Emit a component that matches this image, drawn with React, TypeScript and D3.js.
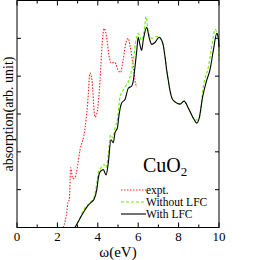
import * as d3 from "d3";
import {useEffect, useRef} from "react";

// experiment (red dotted)
const exptE = [2.29, 2.48, 2.52, 2.59, 2.66, 2.76, 2.87, 3.12, 3.37, 3.51, 3.61, 3.71, 3.86, 3.96, 4.11, 4.21, 4.32, 4.46, 4.55, 4.69, 4.8, 4.9, 5.0, 5.13, 5.25, 5.4, 5.51, 5.59, 5.76, 5.84, 5.93];
const exptA = [0, 0.47, 0.66, 0.74, 1.58, 1.29, 1.32, 2.05, 2.63, 3.37, 4.08, 3.9, 2.92, 3.03, 3.89, 4.82, 5.26, 4.95, 4.55, 4.34, 4.37, 4.32, 4.16, 4.1, 4.42, 4.9, 5.0, 4.82, 4.24, 3.89, 3.71];

// without local field correction (green dashed)
const noLfcE = [2.87, 3.12, 3.37, 3.61, 3.81, 3.95, 4.03, 4.16, 4.31, 4.41, 4.52, 4.63, 4.75, 4.85, 4.98, 5.1, 5.35, 5.59, 5.76, 5.89, 6.0, 6.17, 6.3, 6.39, 6.5, 6.67, 6.92, 7.04, 7.16, 7.33, 7.41, 7.49, 7.57, 7.67, 7.82, 8.07, 8.27, 8.48, 8.73, 8.94, 9.06, 9.22, 9.47, 9.72, 9.8, 9.97, 10.0];
const noLfcA = [0, 0.26, 0.53, 0.66, 0.79, 1.18, 1.47, 1.58, 1.66, 1.58, 1.92, 2.45, 2.37, 2.63, 2.89, 3.45, 3.71, 3.97, 4.42, 4.95, 5.13, 4.95, 5.21, 5.58, 5.16, 5.0, 5.05, 5.03, 4.95, 4.5, 4.16, 3.89, 3.63, 3.42, 3.32, 3.26, 3.34, 3.16, 2.89, 2.84, 2.97, 3.71, 4.24, 5.03, 5.24, 4.95, 4.42];

// with local field correction (black solid)
const lfcE = [2.87, 3.12, 3.37, 3.51, 3.7, 3.81, 3.95, 4.03, 4.11, 4.27, 4.41, 4.52, 4.65, 4.77, 4.85, 4.97, 5.05, 5.18, 5.35, 5.51, 5.68, 5.76, 5.84, 5.93, 6.0, 6.09, 6.17, 6.25, 6.42, 6.55, 6.67, 6.83, 7.04, 7.16, 7.24, 7.33, 7.41, 7.49, 7.57, 7.67, 7.82, 8.07, 8.27, 8.48, 8.73, 8.9, 9.02, 9.19, 9.39, 9.55, 9.72, 9.89, 9.97, 10.0];
const lfcA = [0, 0.24, 0.47, 0.58, 0.68, 0.74, 1.0, 1.32, 1.47, 1.53, 1.39, 1.71, 2.32, 2.24, 2.5, 2.63, 2.97, 3.29, 3.39, 3.68, 3.74, 3.89, 4.24, 4.68, 5.03, 4.82, 4.68, 4.95, 5.29, 5.0, 4.84, 4.89, 5.03, 4.95, 4.82, 4.5, 4.16, 3.89, 3.63, 3.42, 3.32, 3.26, 3.34, 3.16, 2.89, 2.76, 2.89, 3.45, 3.89, 4.16, 4.68, 5.13, 5.0, 4.76];

const xTicks = [0, 2, 4, 6, 8, 10];
const xMinor = [1, 3, 5, 7, 9];
const yTicks = [1, 2, 3, 4, 5];

const legend = [
    {label: "expt.", color: "#ff2020", dash: "1.5,1.5"},
    {label: "Without LFC", color: "#66ee00", dash: "3,2"},
    {label: "With LFC", color: "#000000", dash: null},
];

export default function App() {
    const ref = useRef<SVGSVGElement>(null);

    useEffect(() => {
        const width = 253, height = 260;
        const left = 17, right = 219, top = 0.5, bottom = 227.5;
        const svg = d3.select(ref.current);
        svg.selectAll("*").remove();
        svg.attr("width", width).attr("height", height);

        const x = d3.scaleLinear().domain([0, 10]).range([left, right]);
        const y = d3.scaleLinear().domain([0, 6]).range([bottom, top]);
        const font = "'Liberation Serif', 'DejaVu Serif', serif";

        // ticks pointing inward on all four sides
        const g = svg.append("g").attr("stroke", "#000").attr("stroke-width", 1);
        xTicks.forEach(t => {
            g.append("line").attr("x1", x(t)).attr("x2", x(t)).attr("y1", bottom).attr("y2", bottom - 5);
            g.append("line").attr("x1", x(t)).attr("x2", x(t)).attr("y1", top).attr("y2", top + 5);
        });
        xMinor.forEach(t => {
            g.append("line").attr("x1", x(t)).attr("x2", x(t)).attr("y1", bottom).attr("y2", bottom - 3);
            g.append("line").attr("x1", x(t)).attr("x2", x(t)).attr("y1", top).attr("y2", top + 3);
        });
        yTicks.forEach(t => {
            g.append("line").attr("x1", left).attr("x2", left + 4).attr("y1", y(t)).attr("y2", y(t));
            g.append("line").attr("x1", right).attr("x2", right - 4).attr("y1", y(t)).attr("y2", y(t));
        });

        const series = [
            {e: exptE, a: exptA, ...legend[0]},
            {e: noLfcE, a: noLfcA, ...legend[1]},
            {e: lfcE, a: lfcA, ...legend[2]},
        ];

        const line = d3.line().curve(d3.curveMonotoneX);

        series.forEach(s => {
            const pts = s.e.map((e, i) => [x(e), y(s.a[i])] as [number, number]);
            svg.append("path")
                .attr("d", line(pts))
                .attr("fill", "none")
                .attr("stroke", s.color)
                .attr("stroke-width", 1.1)
                .attr("stroke-dasharray", s.dash);
        });

        // frame
        svg.append("rect").attr("x", left).attr("y", top).attr("width", right - left).attr("height", bottom - top)
            .attr("fill", "none").attr("stroke", "#000").attr("stroke-width", 1);

        // x tick labels
        svg.append("g").selectAll("text").data(xTicks).join("text")
            .attr("x", d => x(d)).attr("y", 241)
            .attr("text-anchor", "middle").attr("font-family", font).attr("font-size", 13)
            .text(d => d);

        svg.append("text").attr("x", 118).attr("y", 257).attr("text-anchor", "middle")
            .attr("font-family", font).attr("font-size", 15).text("ω(eV)");

        svg.append("text").attr("transform", "translate(13,114) rotate(-90)").attr("text-anchor", "middle")
            .attr("font-family", font).attr("font-size", 14).text("absorption(arb. unit)");

        // compound name
        const name = svg.append("text").attr("x", 143).attr("y", 172).attr("font-family", font).attr("font-size", 20);
        name.append("tspan").text("CuO");
        name.append("tspan").attr("font-size", 13).attr("dy", 4).text("2");

        // legend
        legend.forEach((l, i) => {
            const ly = 190 + i * 12;
            svg.append("line").attr("x1", 121).attr("x2", 146).attr("y1", ly).attr("y2", ly)
                .attr("stroke", l.color).attr("stroke-width", 1.1).attr("stroke-dasharray", l.dash);
            svg.append("text").attr("x", 146).attr("y", ly + 4).attr("font-family", font).attr("font-size", 11.5).text(l.label);
        });
    }, []);

    return <svg ref={ref} style={{position: "absolute", left: 0, top: 0}}></svg>;
}
